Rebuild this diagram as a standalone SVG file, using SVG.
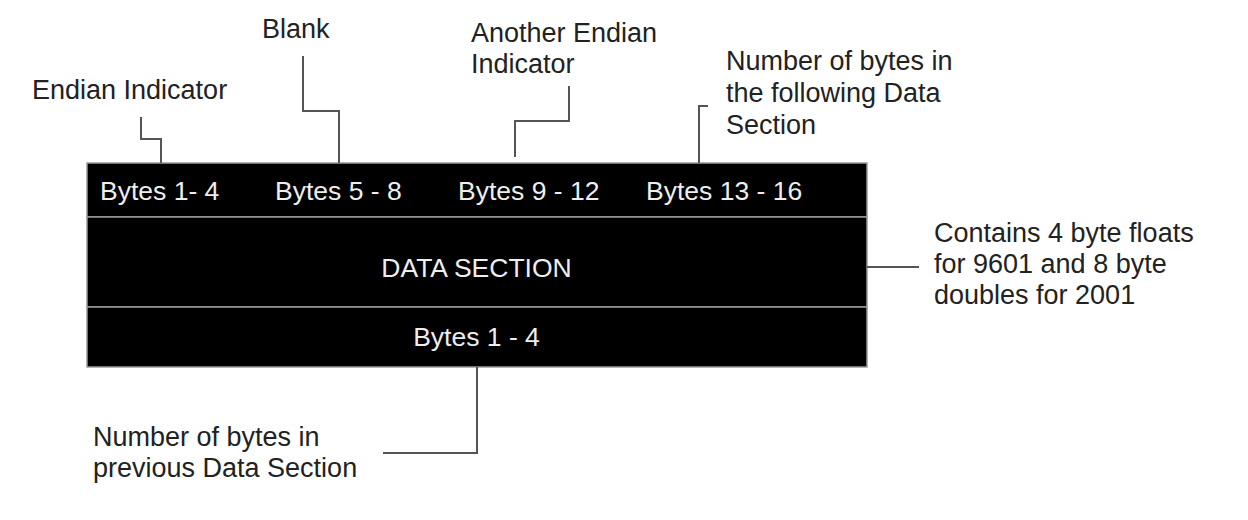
<svg xmlns="http://www.w3.org/2000/svg" width="1248" height="520" viewBox="0 0 1248 520">
<style>
.lbl{font-family:"Liberation Sans",Arial,sans-serif;font-size:27px;fill:#222}
.in{font-family:"Liberation Sans",Arial,sans-serif;font-size:26.5px;fill:#eee}
.row{fill:#000;stroke:#9a9a9a;stroke-width:1.5}
.conn{fill:none;stroke:#555;stroke-width:2}
</style>
<rect width="1248" height="520" fill="#fff"/>
<g id="record">
<rect class="row" x="87" y="163" width="780" height="54"/>
<rect class="row" x="87" y="217" width="780" height="90"/>
<rect class="row" x="87" y="307" width="780" height="60"/>
<text class="in" x="100" y="200">Bytes 1- 4</text>
<text class="in" x="275" y="200">Bytes 5 - 8</text>
<text class="in" x="458" y="200">Bytes 9 - 12</text>
<text class="in" x="646" y="200">Bytes 13 - 16</text>
<text class="in" x="476.5" y="277" text-anchor="middle">DATA SECTION</text>
<text class="in" x="476.5" y="346" text-anchor="middle">Bytes 1 - 4</text>
</g>
<g id="connectors">
<path class="conn" d="M161,163 V139 H141 V117"/>
<path class="conn" d="M339,163 V111 H303 V56"/>
<path class="conn" d="M515,157 V121 H569 V86"/>
<path class="conn" d="M708,106 H699 V163"/>
<path class="conn" d="M867,267 H919"/>
<path class="conn" d="M477,367 V453 H383"/>
</g>
<g id="label-endian">
<text class="lbl" x="32" y="99">Endian Indicator</text>
</g>
<g id="label-blank">
<text class="lbl" x="262" y="38">Blank</text>
</g>
<g id="label-another">
<text class="lbl" x="471" y="42">Another Endian</text>
<text class="lbl" x="471" y="73">Indicator</text>
</g>
<g id="label-following">
<text class="lbl" x="726" y="70">Number of bytes in</text>
<text class="lbl" x="726" y="102">the following Data</text>
<text class="lbl" x="726" y="134">Section</text>
</g>
<g id="label-data">
<text class="lbl" x="934" y="242">Contains 4 byte floats</text>
<text class="lbl" x="934" y="273">for 9601 and 8 byte</text>
<text class="lbl" x="934" y="304">doubles for 2001</text>
</g>
<g id="label-previous">
<text class="lbl" x="93" y="446">Number of bytes in</text>
<text class="lbl" x="93" y="477">previous Data Section</text>
</g>
</svg>
